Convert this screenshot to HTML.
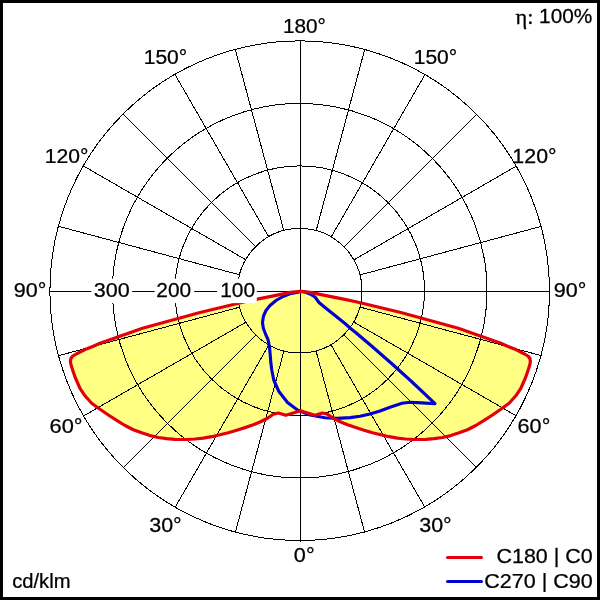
<!DOCTYPE html>
<html><head><meta charset="utf-8"><title>Polar diagram</title>
<style>
html,body{margin:0;padding:0;background:#fff;}
svg{display:block}
text{font-family:"Liberation Sans",sans-serif;font-size:19.6px;fill:#000;font-kerning:none;stroke:#000;stroke-width:0.25px}
text.ser{font-family:"Liberation Serif","DejaVu Serif",serif}
</style></head><body>
<svg width="600" height="600" viewBox="0 0 600 600">
<rect x="0" y="0" width="600" height="600" fill="#fff"/>
<polygon points="300.50,291.40 295.50,291.80 290.50,292.40 285.50,293.40 276.00,295.40 266.00,297.40 256.00,299.40 246.00,301.50 233.30,304.50 200.00,312.50 142.50,328.30 117.00,337.30 100.00,343.30 93.30,346.30 85.00,349.60 76.70,353.75 72.50,356.25 70.80,358.75 70.40,361.70 71.25,365.80 72.90,370.80 75.20,377.50 80.00,388.30 85.00,395.80 91.70,403.30 100.00,409.30 108.30,415.00 116.70,420.40 125.00,425.50 133.30,429.70 141.70,432.80 150.00,435.60 158.30,437.50 166.70,438.70 175.00,439.30 186.70,439.50 195.00,439.00 203.30,438.20 211.70,436.70 220.00,434.80 228.30,432.70 236.70,430.20 245.00,427.60 253.30,424.80 260.00,422.00 267.50,418.30 273.30,414.20 278.30,413.00 285.80,415.30 293.30,413.00 300.50,410.80 307.50,413.00 315.00,415.30 322.50,413.00 327.50,414.20 333.30,418.30 340.80,422.00 347.50,424.80 355.80,427.60 364.10,430.20 372.50,432.70 380.80,434.80 389.10,436.70 397.50,438.20 405.80,439.00 414.10,439.50 425.80,439.30 434.10,438.70 442.50,437.50 450.80,435.60 459.10,432.80 467.50,429.70 475.80,425.50 484.10,420.40 492.50,415.00 500.80,409.30 509.10,403.30 515.80,395.80 520.80,388.30 525.60,377.50 527.90,370.80 529.55,365.80 530.40,361.70 530.00,358.75 528.30,356.25 524.10,353.75 515.80,349.60 507.50,346.30 500.80,343.30 483.80,337.30 458.30,328.30 400.80,312.50 367.50,304.50 354.80,301.50 344.80,299.40 334.80,297.40 324.80,295.40 315.30,293.40 310.30,292.40 305.30,291.80" fill="#ffff84"/>
<g fill="none" stroke="#000" stroke-width="1" shape-rendering="crispEdges">
<circle cx="299.7" cy="290.7" r="62.30"/>
<circle cx="299.7" cy="290.7" r="124.80"/>
<circle cx="299.7" cy="290.7" r="187.30"/>
<circle cx="299.7" cy="290.7" r="249.80"/>
<line x1="316.18" y1="351.37" x2="364.70" y2="532.48"/>
<line x1="331.25" y1="345.13" x2="425.00" y2="507.51"/>
<line x1="344.19" y1="335.19" x2="476.78" y2="467.78"/>
<line x1="354.13" y1="322.25" x2="516.51" y2="416.00"/>
<line x1="360.37" y1="307.18" x2="541.48" y2="355.70"/>
<line x1="360.37" y1="274.82" x2="541.48" y2="226.30"/>
<line x1="354.13" y1="259.75" x2="516.51" y2="166.00"/>
<line x1="344.19" y1="246.81" x2="476.78" y2="114.22"/>
<line x1="331.25" y1="236.87" x2="425.00" y2="74.49"/>
<line x1="316.18" y1="230.63" x2="364.70" y2="49.52"/>
<line x1="283.82" y1="230.63" x2="235.30" y2="49.52"/>
<line x1="268.75" y1="236.87" x2="175.00" y2="74.49"/>
<line x1="255.81" y1="246.81" x2="123.22" y2="114.22"/>
<line x1="245.87" y1="259.75" x2="83.49" y2="166.00"/>
<line x1="239.63" y1="274.82" x2="58.52" y2="226.30"/>
<line x1="239.63" y1="307.18" x2="58.52" y2="355.70"/>
<line x1="245.87" y1="322.25" x2="83.49" y2="416.00"/>
<line x1="255.81" y1="335.19" x2="123.22" y2="467.78"/>
<line x1="268.75" y1="345.13" x2="175.00" y2="507.51"/>
<line x1="283.82" y1="351.37" x2="235.30" y2="532.48"/>
<line x1="300.5" y1="41" x2="300.5" y2="541.5"/>
<line x1="49.5" y1="291.5" x2="550" y2="291.5"/>
</g>
<polygon points="300.50,291.30 297.00,292.50 290.00,293.80 283.00,296.50 276.00,300.50 270.00,305.50 266.00,310.50 263.50,316.00 262.50,322.50 263.30,328.00 265.50,334.00 268.00,339.50 269.50,347.00 270.30,356.00 270.90,363.30 271.80,370.00 273.75,380.00 278.75,391.25 287.50,402.50 297.50,410.00 310.00,415.00 325.00,417.80 337.50,418.40 350.00,417.60 360.00,416.20 370.00,414.00 380.00,411.00 390.00,407.20 402.00,403.20 410.00,402.20 422.00,402.90 435.00,403.70 411.00,381.00 391.00,363.00 371.00,345.50 355.00,332.00 350.00,328.00 345.00,323.50 340.00,319.50 335.00,315.50 330.00,311.50 325.00,307.50 319.00,302.50 315.00,297.00 310.00,294.00 305.00,292.00" fill="none" stroke="#0000d4" stroke-width="3.1" stroke-linejoin="round"/>
<polygon points="300.50,291.40 295.50,291.80 290.50,292.40 285.50,293.40 276.00,295.40 266.00,297.40 256.00,299.40 246.00,301.50 233.30,304.50 200.00,312.50 142.50,328.30 117.00,337.30 100.00,343.30 93.30,346.30 85.00,349.60 76.70,353.75 72.50,356.25 70.80,358.75 70.40,361.70 71.25,365.80 72.90,370.80 75.20,377.50 80.00,388.30 85.00,395.80 91.70,403.30 100.00,409.30 108.30,415.00 116.70,420.40 125.00,425.50 133.30,429.70 141.70,432.80 150.00,435.60 158.30,437.50 166.70,438.70 175.00,439.30 186.70,439.50 195.00,439.00 203.30,438.20 211.70,436.70 220.00,434.80 228.30,432.70 236.70,430.20 245.00,427.60 253.30,424.80 260.00,422.00 267.50,418.30 273.30,414.20 278.30,413.00 285.80,415.30 293.30,413.00 300.50,410.80 307.50,413.00 315.00,415.30 322.50,413.00 327.50,414.20 333.30,418.30 340.80,422.00 347.50,424.80 355.80,427.60 364.10,430.20 372.50,432.70 380.80,434.80 389.10,436.70 397.50,438.20 405.80,439.00 414.10,439.50 425.80,439.30 434.10,438.70 442.50,437.50 450.80,435.60 459.10,432.80 467.50,429.70 475.80,425.50 484.10,420.40 492.50,415.00 500.80,409.30 509.10,403.30 515.80,395.80 520.80,388.30 525.60,377.50 527.90,370.80 529.55,365.80 530.40,361.70 530.00,358.75 528.30,356.25 524.10,353.75 515.80,349.60 507.50,346.30 500.80,343.30 483.80,337.30 458.30,328.30 400.80,312.50 367.50,304.50 354.80,301.50 344.80,299.40 334.80,297.40 324.80,295.40 315.30,293.40 310.30,292.40 305.30,291.80" fill="none" stroke="#e4000a" stroke-width="3.2" stroke-linejoin="round"/>
<g fill="#fff">
<rect x="217" y="278.7" width="39.8" height="24.4"/>
<rect x="154.6" y="278.7" width="39.6" height="24.4"/>
<rect x="91.3" y="278.7" width="40.9" height="24.4"/>
</g>
<g id="labels">
<text transform="translate(282.92,33.30) scale(1.0615,1)" style="font-size:19.6px">180°</text>
<text transform="translate(293.85,562.00) scale(1.1074,1)" style="font-size:19.6px">0°</text>
<text transform="translate(13.69,297.20) scale(1.1001,1)" style="font-size:19.6px">90°</text>
<text transform="translate(553.69,297.20) scale(1.1001,1)" style="font-size:19.6px">90°</text>
<text transform="translate(143.70,63.70) scale(1.0747,1)" style="font-size:19.6px">150°</text>
<text transform="translate(413.70,63.70) scale(1.0747,1)" style="font-size:19.6px">150°</text>
<text transform="translate(44.69,163.00) scale(1.0774,1)" style="font-size:19.6px">120°</text>
<text transform="translate(512.37,163.00) scale(1.0906,1)" style="font-size:19.6px">120°</text>
<text transform="translate(49.59,432.70) scale(1.1141,1)" style="font-size:19.6px">60°</text>
<text transform="translate(517.60,432.70) scale(1.1032,1)" style="font-size:19.6px">60°</text>
<text transform="translate(149.18,531.70) scale(1.0969,1)" style="font-size:19.6px">30°</text>
<text transform="translate(419.18,531.70) scale(1.0969,1)" style="font-size:19.6px">30°</text>
<text transform="translate(220.21,297.30) scale(1.0676,1)" style="font-size:19.6px">100</text>
<text transform="translate(156.35,297.30) scale(1.0662,1)" style="font-size:19.6px">200</text>
<text transform="translate(93.68,297.30) scale(1.0997,1)" style="font-size:19.6px">300</text>
<text transform="translate(12.14,587.50) scale(1.0311,1)" style="font-size:19.6px">cd/klm</text>
<text transform="translate(496.41,563.20) scale(1.0971,1)" style="font-size:19.6px">C180 | C0</text>
<text transform="translate(484.21,588.00) scale(1.0996,1)" style="font-size:19.6px">C270 | C90</text>
<text transform="translate(539.11,22.50) scale(1.0639,1)" style="font-size:19.6px">100%</text>
<text class="ser" transform="translate(515.45,24.40) scale(1.1054,1)" style="font-size:20.3px">η:</text>
</g>
<line x1="447.5" y1="557.5" x2="481.5" y2="557.5" stroke="#e4000a" stroke-width="3" stroke-linecap="round"/>
<line x1="447.5" y1="581.5" x2="481.5" y2="581.5" stroke="#0000d4" stroke-width="3" stroke-linecap="round"/>
<path d="M0 0H600V600H0Z M3 3V597H597V3Z" fill="#000" fill-rule="evenodd"/>
</svg>
</body></html>
